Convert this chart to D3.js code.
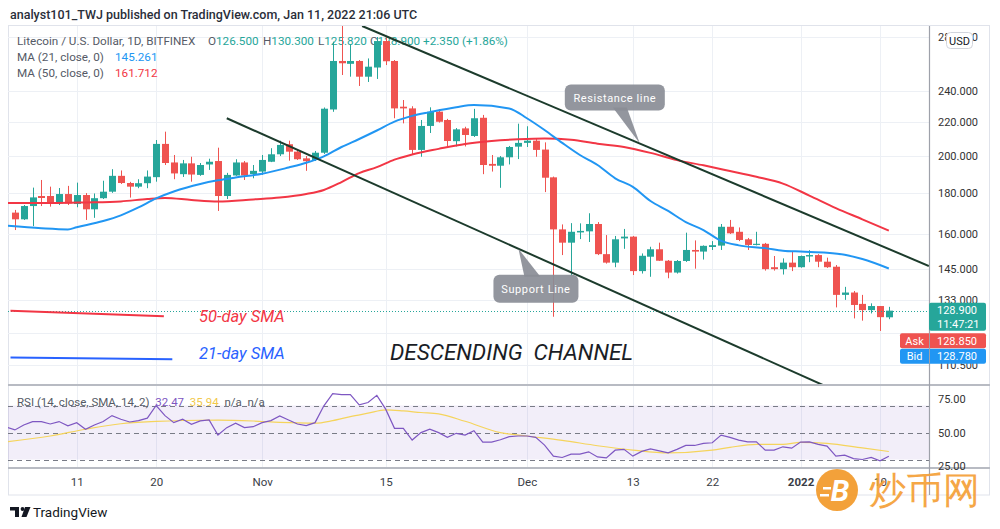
<!DOCTYPE html>
<html><head><meta charset="utf-8">
<script src="https://cdn.jsdelivr.net/npm/d3@7"></script>
<style>
html,body{margin:0;padding:0;background:#fff;}
svg{display:block;}
text{font-family:Roboto,"Noto Sans",sans-serif;}
</style></head>
<body><svg id="chart" width="1000" height="529"></svg>
<script>
// ---------------- DATA ----------------
const firstDay = "2021-10-04", dayAfterLast = "2022-01-12";
const open = [170.2,167.0,173.4,178.4,178.4,174.7,179.4,174.4,178.9,171.8,177.3,180.6,188.9,185.1,183.2,185.0,188.2,206.8,196.2,189.8,195.7,189.4,195.1,197.0,178.4,189.1,196.2,189.9,
191.2,196.6,200.8,206.6,202.3,198.5,197.6,201.7,228.0,261.6,259.5,261.6,250.2,256.8,276.8,261.6,229.8,228.7,203.3,217.6,226.6,221.3,208.4,216.1,211.5,222.7,195.4,194.4,199.1,205.2,
207.4,208.7,203.5,188.1,162.3,156.3,160.9,161.4,164.8,151.3,147.7,158.2,159.0,144.2,150.2,153.4,148.5,143.6,148.4,153.1,152.4,154.4,155.0,163.5,161.2,157.8,155.3,155.8,145.8,145.0,147.7,
145.8,150.3,150.9,148.1,146.0,134.8,135.7,131.4,129.1,130.6,126.5];
const high = [171.5,173.9,182.7,186.7,183.2,182.5,183.6,185.3,179.9,179.7,186.3,192.5,191.8,185.7,187.1,191.8,209.1,214.1,200.4,197.6,199.4,195.9,198.3,204.6,190.5,198.0,197.0,194.8,
200.4,204.3,208.7,208.7,203.3,199.8,202.7,229.3,276.3,288.9,274.5,262.3,263.5,280.0,279.6,262.3,234.2,230.1,221.3,229.4,228.1,222.0,216.3,217.1,228.4,224.5,200.4,199.8,205.6,219.0,
217.4,209.7,207.7,188.5,164.6,165.2,165.1,169.9,165.7,159.7,159.3,162.5,159.3,151.6,154.5,156.3,148.8,148.8,160.8,157.3,155.1,157.0,164.8,166.7,163.2,158.4,161.2,156.2,150.5,149.5,152.4,
150.7,153.0,151.3,149.8,146.7,137.9,136.3,134.8,131.6,130.6,130.3];
const low = [162.0,166.7,163.8,173.4,173.1,173.9,173.9,172.8,166.7,167.7,176.9,180.0,184.6,177.6,182.4,182.4,185.8,194.8,187.1,188.3,185.8,188.9,192.1,171.0,176.9,188.9,186.7,187.6,
189.4,196.4,199.8,197.2,197.6,191.6,197.0,201.0,226.5,251.4,250.2,243.7,246.5,248.6,258.6,222.4,219.2,200.4,199.4,213.3,219.7,205.3,205.3,205.3,210.9,189.8,191.2,182.6,195.1,198.1,
205.0,199.4,180.4,126.7,150.9,142.4,157.9,156.6,150.9,147.3,145.8,153.6,142.6,143.2,141.9,148.4,141.3,143.2,148.0,145.2,149.0,153.1,153.1,160.2,157.0,153.1,155.1,144.4,144.4,142.8,144.2,
145.6,147.9,145.8,145.5,130.1,132.9,126.1,125.3,127.9,121.7,125.82];
const close = [167.0,173.4,177.7,177.4,174.7,179.4,174.7,178.9,171.8,177.3,180.6,188.9,185.1,183.2,185.0,188.5,206.8,195.9,190.2,195.7,189.6,194.8,196.6,178.4,189.4,196.2,189.1,191.6,
197.6,200.8,206.2,202.3,198.0,196.9,201.7,228.5,261.6,259.9,261.6,250.2,257.4,276.8,261.4,228.7,228.7,203.3,217.6,226.6,220.2,208.5,215.5,212.1,222.4,194.8,194.4,199.1,205.0,207.4,
208.7,203.3,187.9,162.3,156.3,161.2,161.6,164.8,151.3,147.7,157.8,159.0,144.2,150.6,153.4,148.5,143.6,148.4,153.1,152.4,154.9,155.2,163.5,160.5,157.5,155.3,155.8,145.0,145.0,147.7,145.8,
150.5,150.9,148.1,145.8,134.8,135.7,131.0,129.1,130.6,126.55,128.9];

const ma21Dates = ["2021-10-03","2021-10-07","2021-10-10","2021-10-11","2021-10-14","2021-10-16","2021-10-18","2021-10-20","2021-10-22","2021-10-25","2021-10-27","2021-10-29","2021-11-01","2021-11-04","2021-11-06","2021-11-08","2021-11-10","2021-11-12","2021-11-14","2021-11-16","2021-11-18","2021-11-20","2021-11-23","2021-11-25","2021-11-29","2021-12-01","2021-12-03","2021-12-05","2021-12-07","2021-12-09","2021-12-11","2021-12-13","2021-12-15","2021-12-17","2021-12-19","2021-12-21","2021-12-23","2021-12-25","2021-12-28","2021-12-30","2022-01-01","2022-01-04","2022-01-06","2022-01-08","2022-01-11"];
const ma21Values = [164.0,162.8,162.3,163.3,166.2,168.9,172.7,177.2,180.7,184.6,186.5,188.0,190.0,193.4,196.0,199.6,205.0,209.7,214.8,220.3,223.9,226.3,229.5,230.9,228.7,222.4,215.1,207.4,200.4,194.8,187.6,183.1,175.9,171.0,165.7,162.0,157.1,155.1,153.9,152.8,152.4,151.9,151.0,149.2,145.26];

const ma50Dates = ["2021-10-03","2021-10-08","2021-10-12","2021-10-16","2021-10-19","2021-10-21","2021-10-24","2021-10-27","2021-10-31","2021-11-03","2021-11-06","2021-11-08","2021-11-10","2021-11-12","2021-11-14","2021-11-16","2021-11-18","2021-11-21","2021-11-24","2021-11-27","2021-11-30","2021-12-03","2021-12-06","2021-12-09","2021-12-12","2021-12-15","2021-12-18","2021-12-21","2021-12-24","2021-12-27","2021-12-30","2022-01-02","2022-01-05","2022-01-08","2022-01-11"];
const ma50Values = [174.9,174.9,175.2,175.7,176.9,177.4,176.4,175.7,176.7,177.6,179.4,181.5,185.6,190.4,193.6,197.8,200.7,203.9,206.8,208.5,209.5,210.0,209.2,206.9,205.0,201.6,197.5,194.6,191.5,188.4,184.8,178.6,172.4,167.0,161.71];

const rsiFirstDay = "2021-10-03";
const rsiValues = [54.0,
51.9,55.6,58.1,58.1,56.3,58.1,54.9,57.3,52.4,55.6,58.1,62.5,59.8,57.8,58.8,60.6,70.0,62.5,57.3,59.8,56.1,58.6,59.3,48.1,53.6,56.9,53.6,54.3,
57.3,58.8,62.3,59.3,56.3,55.1,57.3,69.8,78.7,78.0,78.0,70.5,72.2,77.5,67.3,53.1,53.1,44.4,49.9,52.4,49.9,46.4,49.4,48.1,51.3,42.9,42.9,44.6,46.9,47.4,
47.4,46.4,40.7,32.5,31.5,34.0,34.0,35.7,31.9,31.2,36.9,37.5,32.5,36.0,37.9,36.4,34.9,37.5,40.4,40.4,41.9,42.4,48.1,46.4,44.4,43.1,43.1,36.9,36.9,39.4,38.4,
42.9,43.1,41.2,39.9,32.5,33.2,30.7,30.0,31.5,29.0,32.47];

const rsiSmaDates = ["2021-10-03","2021-10-08","2021-10-12","2021-10-16","2021-10-20","2021-10-23","2021-10-27","2021-10-31","2021-11-03","2021-11-07","2021-11-09","2021-11-11","2021-11-13","2021-11-15","2021-11-17","2021-11-19","2021-11-21","2021-11-24","2021-11-28","2021-12-01","2021-12-05","2021-12-09","2021-12-13","2021-12-17","2021-12-22","2021-12-24","2021-12-27","2021-12-30","2022-01-01","2022-01-04","2022-01-08","2022-01-11"];
const rsiSmaValues = [43.0,47.4,52.4,56.5,58.2,58.9,59.2,58.5,57.5,56.9,58.8,61.8,64.3,66.8,66.0,64.8,63.8,58.3,49.9,47.4,44.2,40.2,37.0,34.9,36.9,39.0,41.2,41.2,42.7,42.0,38.6,35.94];

const priceGrid = [280, 240, 220, 200, 180, 160, 145, 133, 121, 110.5];
const priceTicks = [280, 240, 220, 200, 180, 160, 145, 133, 110.5];
const rsiTicks = [75, 50, 25];
const rsiLevels = [70, 50, 30];
const timeTicks = ["2021-10-11","2021-10-20","2021-11-01","2021-11-15","2021-12-01","2021-12-13","2021-12-22","2022-01-01","2022-01-10"];
const timeLabels = ["11","20","Nov","15","Dec","13","22","2022","10"];

// trend / drawing lines as [date, price]
const resistanceLine = [["2021-11-12T08:00:00Z", 288.9], ["2022-01-15T13:00:00Z", 146.3]];
const supportLine = [["2021-10-28T00:00:00Z", 222.4], ["2022-01-03T13:00:00Z", 104.4]];
const sma50Sample = [["2021-10-03T12:00:00Z", 128.9], ["2021-10-20T21:00:00Z", 126.9]];
const sma21Sample = [["2021-10-03T12:00:00Z", 112.9], ["2021-10-21T20:00:00Z", 112.3]];
const resistanceTip = "2021-12-13T19:00:00Z";
const supportTip = "2021-11-30T01:00:00Z";

const lastPrice = 128.9, askPrice = 128.85, bidPrice = 128.78;
const ma21Last = 145.261, ma50Last = 161.712;
const rsiLast = 32.47, rsiSmaLast = 35.94;

// ---------------- LAYOUT ----------------
const L = 8, AX = 929, FR = 990, PT = 26, PB = 384, RT = 386, RB = 468, FB = 495;
const C_UP = "#26a69a", C_DN = "#ef5350";

const svg = d3.select("#chart");
const pd = s => new Date(s.length === 10 ? s + "T00:00:00Z" : s);

const x = d3.scaleUtc().domain([pd("2021-10-11"), pd("2022-01-10")]).range([76.7, 880]);
const y = d3.scaleLog().domain([280, 110.5]).range([37, 365]);
const yr = d3.scaleLinear().domain([30, 70]).range([459.5, 405.5]);

const dates = d3.utcDay.range(pd(firstDay), pd(dayAfterLast));
const candles = dates.map((d, i) => ({d, o: open[i], h: high[i], l: low[i], c: close[i]}));

const defs = svg.append("defs");
defs.append("clipPath").attr("id", "pc").append("rect").attr("x", L).attr("y", PT).attr("width", AX - L).attr("height", PB - PT);
defs.append("clipPath").attr("id", "rc").append("rect").attr("x", L).attr("y", RT).attr("width", AX - L).attr("height", RB - RT);

// header
svg.append("text").attr("x", 10).attr("y", 19).attr("font-size", 12.5).attr("font-weight", 500).attr("fill", "#2a2e39")
  .text("analyst101_TWJ published on TradingView.com, Jan 11, 2022 21:06 UTC");

// frame
svg.append("rect").attr("x", L + 0.5).attr("y", PT - 0.5).attr("width", FR - L - 1).attr("height", FB - PT + 0.5)
  .attr("fill", "#fff").attr("stroke", "#e0e3eb");

// grid
const gridC = "#edf0f5";
svg.append("g").selectAll("line").data(timeTicks).join("line")
  .attr("x1", d => Math.round(x(pd(d))) + 0.5).attr("x2", d => Math.round(x(pd(d))) + 0.5)
  .attr("y1", PT).attr("y2", RB).attr("stroke", gridC);
svg.append("g").attr("clip-path", "url(#pc)").selectAll("line").data(priceGrid).join("line")
  .attr("x1", L).attr("x2", AX).attr("y1", d => Math.round(y(d)) + 0.5).attr("y2", d => Math.round(y(d)) + 0.5)
  .attr("stroke", gridC);

// RSI band
svg.append("rect").attr("x", L).attr("width", AX - L).attr("y", yr(70)).attr("height", yr(30) - yr(70))
  .attr("fill", "rgba(126,87,194,0.1)");
svg.append("g").selectAll("line").data(rsiLevels).join("line")
  .attr("x1", L).attr("x2", AX).attr("y1", d => Math.round(yr(d)) + 0.5).attr("y2", d => Math.round(yr(d)) + 0.5)
  .attr("stroke", "#787b86").attr("stroke-dasharray", "5,4");

// legend (under candles)
const lg = svg.append("g").attr("font-size", 11.7);
const l1 = lg.append("text").attr("x", 17).attr("y", 44.5).attr("fill", "#555a66");
l1.append("tspan").text("Litecoin / U.S. Dollar, 1D, BITFINEX");
[["O", open[open.length-1].toFixed(3), 208], ["H", high[high.length-1].toFixed(3), 263], ["L", low[low.length-1].toFixed(3), 318], ["C", close[close.length-1].toFixed(3), 370]].forEach(([k, v, px]) => {
  const t = lg.append("text").attr("x", px).attr("y", 44.5).attr("fill", "#555a66");
  t.append("tspan").text(k);
  t.append("tspan").attr("fill", C_UP).text(v);
});
const chg = close[close.length-1] - close[close.length-2];
lg.append("text").attr("x", 423).attr("y", 44.5).attr("fill", C_UP)
  .text("+" + chg.toFixed(3) + " (+" + (chg / close[close.length-2] * 100).toFixed(2) + "%)");
lg.append("text").attr("x", 17).attr("y", 60.5).attr("fill", "#555a66").text("MA (21, close, 0)");
lg.append("text").attr("x", 115).attr("y", 60.5).attr("fill", "#2196f3").text(ma21Last.toFixed(3));
lg.append("text").attr("x", 17).attr("y", 76.5).attr("fill", "#555a66").text("MA (50, close, 0)");
lg.append("text").attr("x", 115).attr("y", 76.5).attr("fill", "#f23645").text(ma50Last.toFixed(3));

// candles
const pg = svg.append("g").attr("clip-path", "url(#pc)");
const cx = d => Math.round(x(d)) + 0.5;
pg.append("g").selectAll("line").data(candles).join("line")
  .attr("x1", d => cx(d.d)).attr("x2", d => cx(d.d))
  .attr("y1", d => y(d.h)).attr("y2", d => y(d.l))
  .attr("stroke", d => d.c >= d.o ? C_UP : C_DN).attr("stroke-width", 1);
pg.append("g").selectAll("rect").data(candles).join("rect")
  .attr("x", d => cx(d.d) - 3.5).attr("width", 7)
  .attr("y", d => y(Math.max(d.o, d.c)))
  .attr("height", d => Math.max(1, Math.abs(y(d.o) - y(d.c))))
  .attr("fill", d => d.c >= d.o ? C_UP : C_DN);

// moving averages
const ln = d3.line().curve(d3.curveMonotoneX);
pg.append("path").attr("d", ln(ma50Dates.map((d, i) => [x(pd(d)), y(ma50Values[i])])))
  .attr("fill", "none").attr("stroke", "#f23645").attr("stroke-width", 2);
pg.append("path").attr("d", ln(ma21Dates.map((d, i) => [x(pd(d)), y(ma21Values[i])])))
  .attr("fill", "none").attr("stroke", "#2196f3").attr("stroke-width", 2);

// last price dotted line
pg.append("line").attr("x1", L).attr("x2", AX).attr("y1", Math.round(y(lastPrice)) + 0.5).attr("y2", Math.round(y(lastPrice)) + 0.5)
  .attr("stroke", C_UP).attr("stroke-dasharray", "1,2");

// drawings
const seg = s => s.map(([d, p]) => [x(pd(d)), y(p)]);
pg.append("path").attr("d", d3.line()(seg(sma50Sample))).attr("stroke", "#f23645").attr("stroke-width", 2).attr("fill", "none");
pg.append("path").attr("d", d3.line()(seg(sma21Sample))).attr("stroke", "#2962ff").attr("stroke-width", 2).attr("fill", "none");
const rs = seg(resistanceLine), ss = seg(supportLine);
pg.append("path").attr("d", d3.line()(rs)).attr("stroke", "#1c3b2c").attr("stroke-width", 2).attr("fill", "none");
pg.append("path").attr("d", d3.line()(ss)).attr("stroke", "#1c3b2c").attr("stroke-width", 2).attr("fill", "none");

const narrow = '"Liberation Sans Narrow","DejaVu Sans Condensed",sans-serif';
pg.append("text").attr("x", 199).attr("y", 322).attr("font-family", narrow).attr("font-style", "italic")
  .attr("font-size", 16.5).attr("fill", "#f23645").text("50-day SMA");
pg.append("text").attr("x", 199).attr("y", 359).attr("font-family", narrow).attr("font-style", "italic")
  .attr("font-size", 16.5).attr("fill", "#2962ff").text("21-day SMA");
pg.append("text").attr("x", 390).attr("y", 360).attr("font-family", narrow).attr("font-style", "italic")
  .attr("font-size", 22.5).attr("fill", "#1a1d26").style("white-space", "pre").text("DESCENDING  CHANNEL");

// callouts
function onLine(pts, d) {
  const xx = x(pd(d)); const t = (xx - pts[0][0]) / (pts[1][0] - pts[0][0]);
  return [xx, pts[0][1] + t * (pts[1][1] - pts[0][1])];
}
const cg = svg.append("g").attr("fill", "#8a8d96").attr("fill-opacity", 0.92);
const rt = onLine(rs, resistanceTip);
cg.append("path").attr("d", `M${rt[0]-27},${rt[1]-36} L${rt[0]-13},${rt[1]-36} L${rt[0]},${rt[1]} Z`);
cg.append("rect").attr("x", rt[0] - 75).attr("y", rt[1] - 59).attr("width", 100).attr("height", 26).attr("rx", 6);
svg.append("text").attr("x", rt[0] - 25).attr("y", rt[1] - 42).attr("text-anchor", "middle").attr("font-size", 11)
  .attr("fill", "#fff").attr("letter-spacing", 0.6).text("Resistance line");
const st = onLine(ss, supportTip);
cg.append("path").attr("d", `M${st[0]+6},${st[1]+28} L${st[0]+22},${st[1]+28} L${st[0]},${st[1]} Z`);
cg.append("rect").attr("x", st[0] - 25).attr("y", st[1] + 26).attr("width", 85).attr("height", 28).attr("rx", 6);
svg.append("text").attr("x", st[0] + 17.5).attr("y", st[1] + 44).attr("text-anchor", "middle").attr("font-size", 11)
  .attr("fill", "#fff").attr("letter-spacing", 0.6).text("Support Line");

// RSI
const rg = svg.append("g").attr("clip-path", "url(#rc)");
const rsiDates = d3.utcDay.range(pd(rsiFirstDay), pd(dayAfterLast));
rg.append("path").attr("d", ln(rsiSmaDates.map((d, i) => [x(pd(d)), yr(rsiSmaValues[i])])))
  .attr("fill", "none").attr("stroke", "#f5d45c").attr("stroke-width", 1.2);
rg.append("path").attr("d", d3.line()(rsiDates.map((d, i) => [x(d), yr(rsiValues[i])])))
  .attr("fill", "none").attr("stroke", "#7e57c2").attr("stroke-width", 1.2);
const rl = svg.append("text").attr("x", 17).attr("y", 405.5).attr("font-size", 11.5).attr("fill", "#555a66").style("white-space", "pre");
rl.append("tspan").text("RSI (14, close, SMA, 14, 2)  ");
rl.append("tspan").attr("fill", "#7e57c2").text(rsiLast.toFixed(2));
rl.append("tspan").text("  ");
rl.append("tspan").attr("fill", "#f2c94c").text(rsiSmaLast.toFixed(2));
rl.append("tspan").text("  n/a  n/a");

// separators
svg.append("rect").attr("x", L).attr("y", PB).attr("width", FR - L).attr("height", 2).attr("fill", "#b8bbc3");
svg.append("rect").attr("x", L).attr("y", RB - 1).attr("width", FR - L).attr("height", 2).attr("fill", "#b8bbc3");
svg.append("line").attr("x1", AX + 0.5).attr("x2", AX + 0.5).attr("y1", PT).attr("y2", FB).attr("stroke", "#9ea1aa").attr("stroke-width", 1.2);

// axes
const axFont = g => g.selectAll("text").attr("font-family", 'Roboto,"Noto Sans",sans-serif');
const pa = svg.append("g").attr("transform", `translate(${AX},0)`)
  .call(d3.axisRight(y).tickValues(priceTicks).tickFormat(d3.format(".3f")).tickSize(0).tickPadding(9));
pa.select(".domain").remove();
pa.selectAll("text").attr("font-size", 11).attr("fill", "#333");
axFont(pa);
const ra = svg.append("g").attr("transform", `translate(${AX},0)`)
  .call(d3.axisRight(d3.scaleLinear().domain(yr.domain()).range(yr.range())).tickValues(rsiTicks).tickFormat(d3.format(".2f")).tickSize(0).tickPadding(9));
ra.select(".domain").remove();
ra.selectAll("text").attr("font-size", 11).attr("fill", "#333");
axFont(ra);
const ta = svg.append("g").attr("transform", `translate(0,${RB + 1})`)
  .call(d3.axisBottom(x).tickValues(timeTicks.map(pd)).tickFormat((d, i) => timeLabels[i]).tickSize(0).tickPadding(9));
ta.select(".domain").remove();
ta.selectAll("text").attr("font-size", 11.5).attr("fill", "#3a3d46").attr("font-weight", (d, i) => timeLabels[i] === "2022" ? 700 : 400);
axFont(ta);

// price tags
const ly = y(lastPrice);
svg.append("rect").attr("x", AX).attr("y", ly - 8).attr("width", 57).attr("height", 28).attr("rx", 2).attr("fill", C_UP);
svg.append("text").attr("x", AX + 8).attr("y", ly + 3.5).attr("font-size", 11).attr("fill", "#fff").text(lastPrice.toFixed(3));
svg.append("text").attr("x", AX + 8).attr("y", ly + 17).attr("font-size", 11).attr("fill", "#fff").text("11:47:21");
[["Ask", askPrice, C_DN, ly + 22.5], ["Bid", bidPrice, "#2196f3", ly + 38]].forEach(([k, v, col, top]) => {
  svg.append("rect").attr("x", AX - 29).attr("y", top).attr("width", 86).attr("height", 15).attr("rx", 2).attr("fill", col);
  svg.append("text").attr("x", AX - 14.5).attr("y", top + 11.5).attr("text-anchor", "middle").attr("font-size", 11).attr("fill", "#fff").text(k);
  svg.append("text").attr("x", AX + 8).attr("y", top + 11.5).attr("font-size", 11).attr("fill", "#fff").text(v.toFixed(3));
});
svg.append("line").attr("x1", AX + 0.5).attr("x2", AX + 0.5).attr("y1", ly + 22).attr("y2", ly + 53).attr("stroke", "#9ea1aa");

// USD box
svg.append("rect").attr("x", 946.5).attr("y", 32.5).attr("width", 26).attr("height", 16).attr("rx", 4)
  .attr("fill", "#fff").attr("stroke", "#d1d4dc");
svg.append("text").attr("x", 959.5).attr("y", 44.5).attr("text-anchor", "middle").attr("font-size", 11).attr("fill", "#131722").text("USD");

// footer logo
const fg = svg.append("g").attr("fill", "#131722");
fg.append("rect").attr("x", 10).attr("y", 507).attr("width", 9).attr("height", 3.5);
fg.append("rect").attr("x", 15).attr("y", 507).attr("width", 4).attr("height", 10);
fg.append("circle").attr("cx", 22.5).attr("cy", 509).attr("r", 1.9);
fg.append("path").attr("d", "M25,507 L30.5,507 L26.5,517 L21.5,517 Z");
svg.append("text").attr("x", 33).attr("y", 517).attr("font-size", 13.5).attr("fill", "#131722").text("TradingView");

// watermark
const wm = svg.append("g").attr("opacity", 0.92);
wm.append("circle").attr("cx", 837).attr("cy", 490).attr("r", 21).attr("fill", "#f39a2a");
wm.append("text").attr("x", 840).attr("y", 501).attr("text-anchor", "middle").attr("font-size", 30).attr("font-weight", 700)
  .attr("font-style", "italic").attr("font-family", "DejaVu Sans").attr("fill", "#fff").text("B");
wm.append("rect").attr("x", 823).attr("y", 487).attr("width", 8).attr("height", 2.5).attr("fill", "#fff");
wm.append("rect").attr("x", 820).attr("y", 494).attr("width", 9).attr("height", 2.5).attr("fill", "#fff");
wm.append("text").attr("x", 869).attr("y", 503).attr("font-size", 37).attr("font-family", '"Noto Sans CJK SC"')
  .attr("fill", "#f5a037").text("炒币网");
</script>
</body></html>
